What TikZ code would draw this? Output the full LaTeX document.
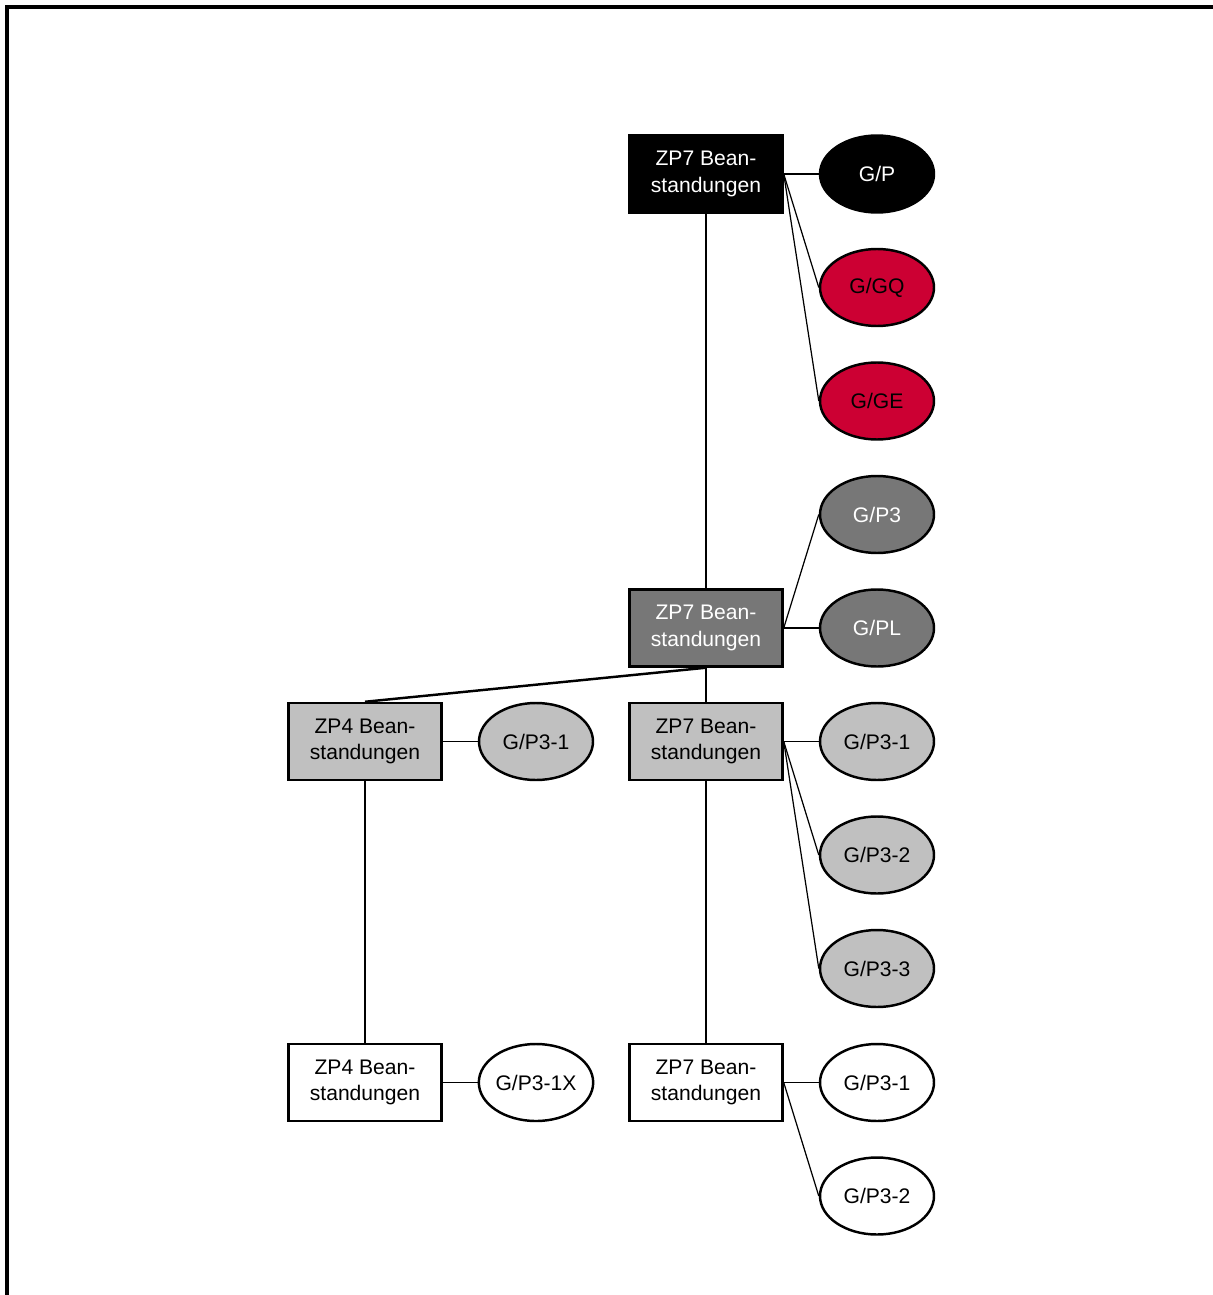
\documentclass[tikz,border=0pt]{standalone}
\usepackage{fontspec}
\setmainfont{Liberation Sans}
\usetikzlibrary{positioning,shapes.geometric}
\definecolor{zpred}{HTML}{CC0033}
\definecolor{zpdark}{HTML}{777777}
\definecolor{zplight}{HTML}{C0C0C0}

\begin{document}
\begin{tikzpicture}
[
  box/.style={rectangle,draw,line width=1.4pt,minimum width=3.06cm,minimum height=1.54cm,align=center,inner sep=0pt},
  oval/.style={ellipse,draw,line width=1.4pt,minimum width=2.28cm,minimum height=1.54cm,inner sep=0pt},
  link/.style={line width=0.7pt},
  tree/.style={line width=1.4pt},
  node distance=2.27cm and 3.42cm,
  on grid,
  font=\fontsize{12}{15}\selectfont
]
 \useasboundingbox (0,0) rectangle (24.26,-25.9);
 \draw[line width=2.2pt] (0.14,-25.9) -- (0.14,-0.14) -- (24.26,-0.14);

 % top level
 \node[box,fill=black,text=white] (zp7a) at (14.12,-3.48) {ZP7 Bean-\\standungen};
 \node[oval,fill=black,text=white] (gp) [right=of zp7a] {G/P};
 \node[oval,fill=zpred] (ggq) [below=of gp] {G/GQ};
 \node[oval,fill=zpred] (gge) [below=of ggq] {G/GE};
 \node[oval,fill=zpdark,text=white] (gp3) [below=of gge] {G/P3};
 \node[oval,fill=zpdark,text=white] (gpl) [below=of gp3] {G/PL};
 \node[box,fill=zpdark,text=white] (zp7b) [left=of gpl] {ZP7 Bean-\\standungen};

 % second level
 \node[oval,fill=zplight] (gp31b) [below=of gpl] {G/P3-1};
 \node[oval,fill=zplight] (gp32b) [below=of gp31b] {G/P3-2};
 \node[oval,fill=zplight] (gp33b) [below=of gp32b] {G/P3-3};
 \node[box,fill=zplight] (zp7c) [left=of gp31b] {ZP7 Bean-\\standungen};
 \node[box,fill=zplight] (zp4c) [left=6.82cm of zp7c] {ZP4 Bean-\\standungen};
 \node[oval,fill=zplight] (gp31a) [right=of zp4c] {G/P3-1};

 % bottom level
 \node[box] (zp7d) [below=6.82cm of zp7c] {ZP7 Bean-\\standungen};
 \node[oval] (gp31c) [right=of zp7d] {G/P3-1};
 \node[oval] (gp32c) [below=of gp31c] {G/P3-2};
 \node[box] (zp4d) [below=6.82cm of zp4c] {ZP4 Bean-\\standungen};
 \node[oval] (gp31x) [right=of zp4d] {G/P3-1X};

 \path[tree]
    (zp7a) edge (zp7b)
    (zp7b.south) edge (zp4c.north)
    (zp7b) edge (zp7c)
    (zp7c) edge (zp7d)
    (zp4c) edge (zp4d);

 \path[link]
    (zp7a.east) edge (gp.west)
    (zp7a.east) edge (ggq.west)
    (zp7a.east) edge (gge.west)
    (zp7b.east) edge (gp3.west)
    (zp7b.east) edge (gpl.west)
    (zp7c.east) edge (gp31b.west)
    (zp7c.east) edge (gp32b.west)
    (zp7c.east) edge (gp33b.west)
    (zp4c.east) edge (gp31a.west)
    (zp7d.east) edge (gp31c.west)
    (zp7d.east) edge (gp32c.west)
    (zp4d.east) edge (gp31x.west);
\end{tikzpicture}
\end{document}
